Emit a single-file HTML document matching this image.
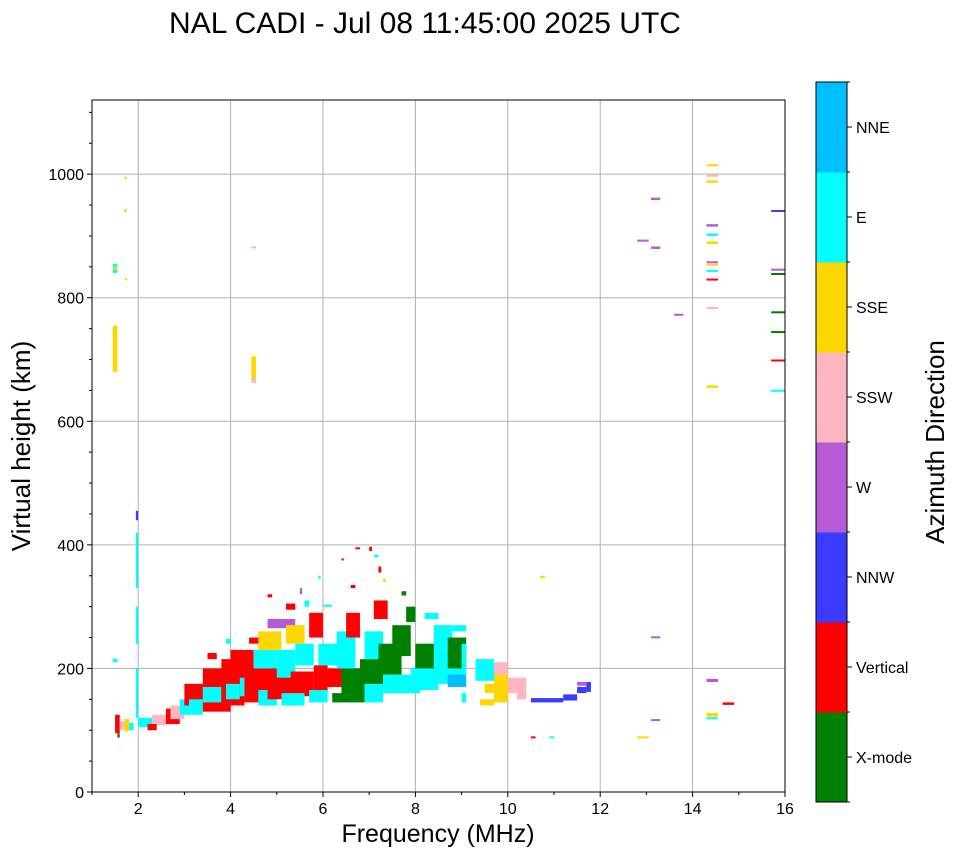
<!DOCTYPE html>
<html><head><meta charset="utf-8">
<style>
html,body{margin:0;padding:0;background:#fff;}
svg{display:block;font-family:"Liberation Sans",sans-serif;}
</style></head>
<body>
<svg id="chart" width="958" height="857" viewBox="0 0 958 857">
<text x="425" y="33" text-anchor="middle" font-size="30" fill="#000">NAL CADI - Jul 08 11:45:00 2025 UTC</text>
<g id="grid"></g>
<g id="marks"></g>
<rect x="92" y="100" width="693" height="692" fill="none" stroke="#000" stroke-width="1"/>
<g id="axes"></g>
<text x="438" y="842" text-anchor="middle" font-size="25">Frequency (MHz)</text>
<text transform="translate(30,446) rotate(-90)" text-anchor="middle" font-size="26">Virtual height (km)</text>
<g id="cbar"></g>
<text transform="translate(944,442) rotate(-90)" text-anchor="middle" font-size="26">Azimuth Direction</text>
</svg>
<script>
const directions=["X-mode","Vertical","NNW","W","SSW","SSE","E","NNE"];
const dirColors=["#008000","#ff0000","#3b3bff","#b65bd6","#ffb6c1","#ffd700","#00ffff","#00bfff"];
const xTicks=[2,4,6,8,10,12,14,16];
const yTicks=[0,200,400,600,800,1000];
// echoes: [freqStart, freqWidth, heightLow, heightHigh, directionIndex]
const echoes=[
[1.45,0.1,680,755,5],[1.45,0.1,840,855,6],[1.45,0.1,845,850,5],
[1.7,0.05,992,996,5],[1.7,0.05,938,944,5],[1.72,0.04,828,832,5],
[1.45,0.1,210,216,6],
[1.5,0.1,95,125,1],[1.6,0.1,100,115,4],[1.7,0.1,98,118,5],[1.8,0.1,100,112,6],[1.55,0.05,88,95,0],
[1.95,0.05,120,200,6],[1.95,0.05,240,300,6],[1.95,0.05,330,420,6],[1.95,0.05,440,455,2],
[2.0,0.3,105,120,6],[2.3,0.3,108,125,4],[2.6,0.3,110,135,1],[2.7,0.3,118,140,4],[2.9,0.2,125,150,6],[2.2,0.2,100,110,1],
[3.0,0.4,140,175,1],[3.1,0.3,125,150,6],[3.4,0.6,130,200,1],[3.4,0.4,145,170,6],[3.8,0.5,140,215,1],[3.9,0.3,150,175,6],
[4.0,0.5,185,230,1],[4.2,0.4,155,185,6],[4.3,0.6,145,200,1],[4.5,0.5,200,230,6],[4.6,0.4,140,165,6],[4.8,0.6,150,200,1],
[5.0,0.4,185,230,6],[5.3,0.5,155,195,1],[5.1,0.5,140,160,6],[4.6,0.5,230,260,5],[4.8,0.6,265,280,3],[5.2,0.4,240,270,5],
[5.4,0.4,205,240,6],[5.8,0.3,160,205,1],[5.7,0.4,145,165,6],[5.9,0.5,205,240,6],[6.0,0.4,170,200,1],[6.2,0.3,145,160,0],
[6.4,0.5,145,200,0],[6.3,0.4,200,260,6],[6.9,0.4,145,175,6],[6.8,0.5,175,215,0],[6.9,0.4,215,260,6],[7.3,0.5,160,190,6],
[7.2,0.5,190,240,0],[7.5,0.4,220,270,0],[7.6,0.5,160,190,6],[7.9,0.6,165,200,6],[8.0,0.4,200,240,0],[8.4,0.6,175,230,6],
[8.4,0.4,230,270,6],[8.7,0.4,200,250,0],[8.7,0.4,170,190,7],[9.0,0.1,145,160,6],[9.0,0.1,190,240,6],[9.3,0.4,180,215,6],
[9.4,0.3,140,150,5],[9.5,0.4,160,175,5],[9.7,0.3,145,190,5],[9.9,0.3,160,180,5],[9.7,0.3,190,210,4],[10.0,0.4,160,185,4],
[10.2,0.2,150,160,4],[10.5,0.7,145,152,2],[11.2,0.3,148,158,2],[11.5,0.2,160,170,2],[11.7,0.1,162,178,2],[11.5,0.2,172,178,3],
[6.4,0.05,375,378,1],[6.7,0.1,393,396,1],[7.0,0.06,390,397,1],[7.1,0.1,380,384,6],[7.2,0.06,355,365,1],[7.3,0.06,340,345,5],
[6.6,0.1,330,335,1],[5.5,0.05,320,330,3],[5.9,0.05,345,350,6],[4.8,0.1,315,320,1],[5.2,0.2,295,305,1],[5.6,0.1,300,310,6],
[6.0,0.2,300,303,6],[7.7,0.1,318,325,0],[7.1,0.3,280,310,1],[6.5,0.3,250,290,1],[5.7,0.3,250,290,1],[4.4,0.2,240,250,1],
[3.5,0.2,215,225,1],[3.9,0.1,240,248,6],[7.8,0.2,275,300,0],[8.2,0.3,280,290,6],[8.8,0.3,260,270,6],
[10.7,0.1,346,350,5],[10.5,0.1,87,90,1],[10.9,0.1,87,90,6],[12.8,0.25,87,90,5],[13.1,0.2,115,118,3],[13.1,0.2,249,252,3],
[14.3,0.25,178,183,3],[14.3,0.25,122,128,5],[14.3,0.25,118,121,6],[14.65,0.25,141,145,1],[13.1,0.2,958,962,3],[13.1,0.2,879,883,3],
[12.8,0.25,892,894,3],[13.6,0.2,771,774,3],
[14.3,0.25,1013,1016,5],[14.3,0.25,997,999,4],[14.3,0.25,986,990,5],[14.3,0.25,915,919,3],[14.3,0.25,900,904,6],[14.3,0.25,887,891,5],
[14.3,0.25,856,859,3],[14.3,0.25,852,855,5],[14.3,0.25,842,845,6],[14.3,0.25,828,831,1],[14.3,0.25,782,785,4],[14.3,0.25,654,658,5],
[4.45,0.1,665,705,5],[4.45,0.1,880,883,4],[4.45,0.1,662,670,4],
[15.7,0.3,939,942,2],[15.7,0.3,844,847,3],[15.7,0.3,837,840,0],[15.7,0.3,775,778,0],[15.7,0.3,743,746,0],[15.7,0.3,697,700,1],[15.7,0.3,648,651,6]
];
const NS="http://www.w3.org/2000/svg";
const X0=92,X1=785,Y0=792,Y1=100,FMIN=1,FMAX=16,HMIN=0,HMAX=1120;
function xs(f){return X0+(f-FMIN)/(FMAX-FMIN)*(X1-X0);}
function ys(h){return Y0-(h-HMIN)/(HMAX-HMIN)*(Y0-Y1);}
function mk(tag,attrs,parent){const e=document.createElementNS(NS,tag);for(const k in attrs)e.setAttribute(k,attrs[k]);parent.appendChild(e);return e;}
const grid=document.getElementById('grid'),axes=document.getElementById('axes'),marks=document.getElementById('marks'),cbar=document.getElementById('cbar');
xTicks.forEach(t=>{const x=xs(t);
 if(t<FMAX){const g=mk('line',{x1:x,x2:x,y1:Y1,y2:Y0,stroke:'#b0b0b0','stroke-width':1},grid);
 
 }
 const tk=mk('line',{x1:x,x2:x,y1:Y0,y2:Y0+5,stroke:'#000'},axes);
 
 
 const l=mk('text',{x:x,y:Y0+22,'text-anchor':'middle','font-size':16},axes);l.textContent=t;
 
 
 const m=xs(t-1);const mt=mk('line',{x1:m,x2:m,y1:Y0,y2:Y0+3,stroke:'#000'},axes);
 
 
});
yTicks.forEach(t=>{const y=ys(t);
 if(t>0){const g=mk('line',{x1:X0,x2:X1,y1:y,y2:y,stroke:'#b0b0b0','stroke-width':1},grid);
 
 }
 const tk=mk('line',{x1:X0-5,x2:X0,y1:y,y2:y,stroke:'#000'},axes);
 
 
 const l=mk('text',{x:X0-8,y:y+6,'text-anchor':'end','font-size':16},axes);l.textContent=t;
 
 
});
for(let h=50;h<HMAX;h+=50){if(h%200===0)continue;const y=ys(h);
 const mt=mk('line',{x1:X0-3,x2:X0,y1:y,y2:y,stroke:'#000'},axes);
 
 }
echoes.forEach(e=>{const x=xs(e[0]),w=xs(e[0]+e[1])-x,yt=ys(e[3]),yb=ys(e[2]);
 const r=mk('rect',{x:x,y:yt,width:Math.max(w,2),height:Math.max(yb-yt,2),fill:dirColors[e[4]]},marks);
 
 
});
const CX=816,CW=31,CT=82,CB=802,seg=(CB-CT)/directions.length;
directions.forEach((d,i)=>{const y=CB-(i+1)*seg;
 const r=mk('rect',{x:CX,y:y,width:CW,height:seg+0.5,fill:dirColors[i]},cbar);
 
 
 const tk=mk('line',{x1:CX+CW,x2:CX+CW+5,y1:y+seg/2,y2:y+seg/2,stroke:'#000'},cbar);
 
 
 const l=mk('text',{x:CX+CW+9,y:y+seg/2+6,'font-size':16},cbar);l.textContent=d;
 
 
});
for(let i=0;i<=directions.length;i++){const y=CB-i*seg;
 const mt=mk('line',{x1:CX+CW,x2:CX+CW+3,y1:y,y2:y,stroke:'#000'},cbar);
 
 }
const fr=mk('rect',{x:CX,y:CT,width:CW,height:CB-CT,fill:'none',stroke:'#000'},cbar);


</script>
</body></html>
